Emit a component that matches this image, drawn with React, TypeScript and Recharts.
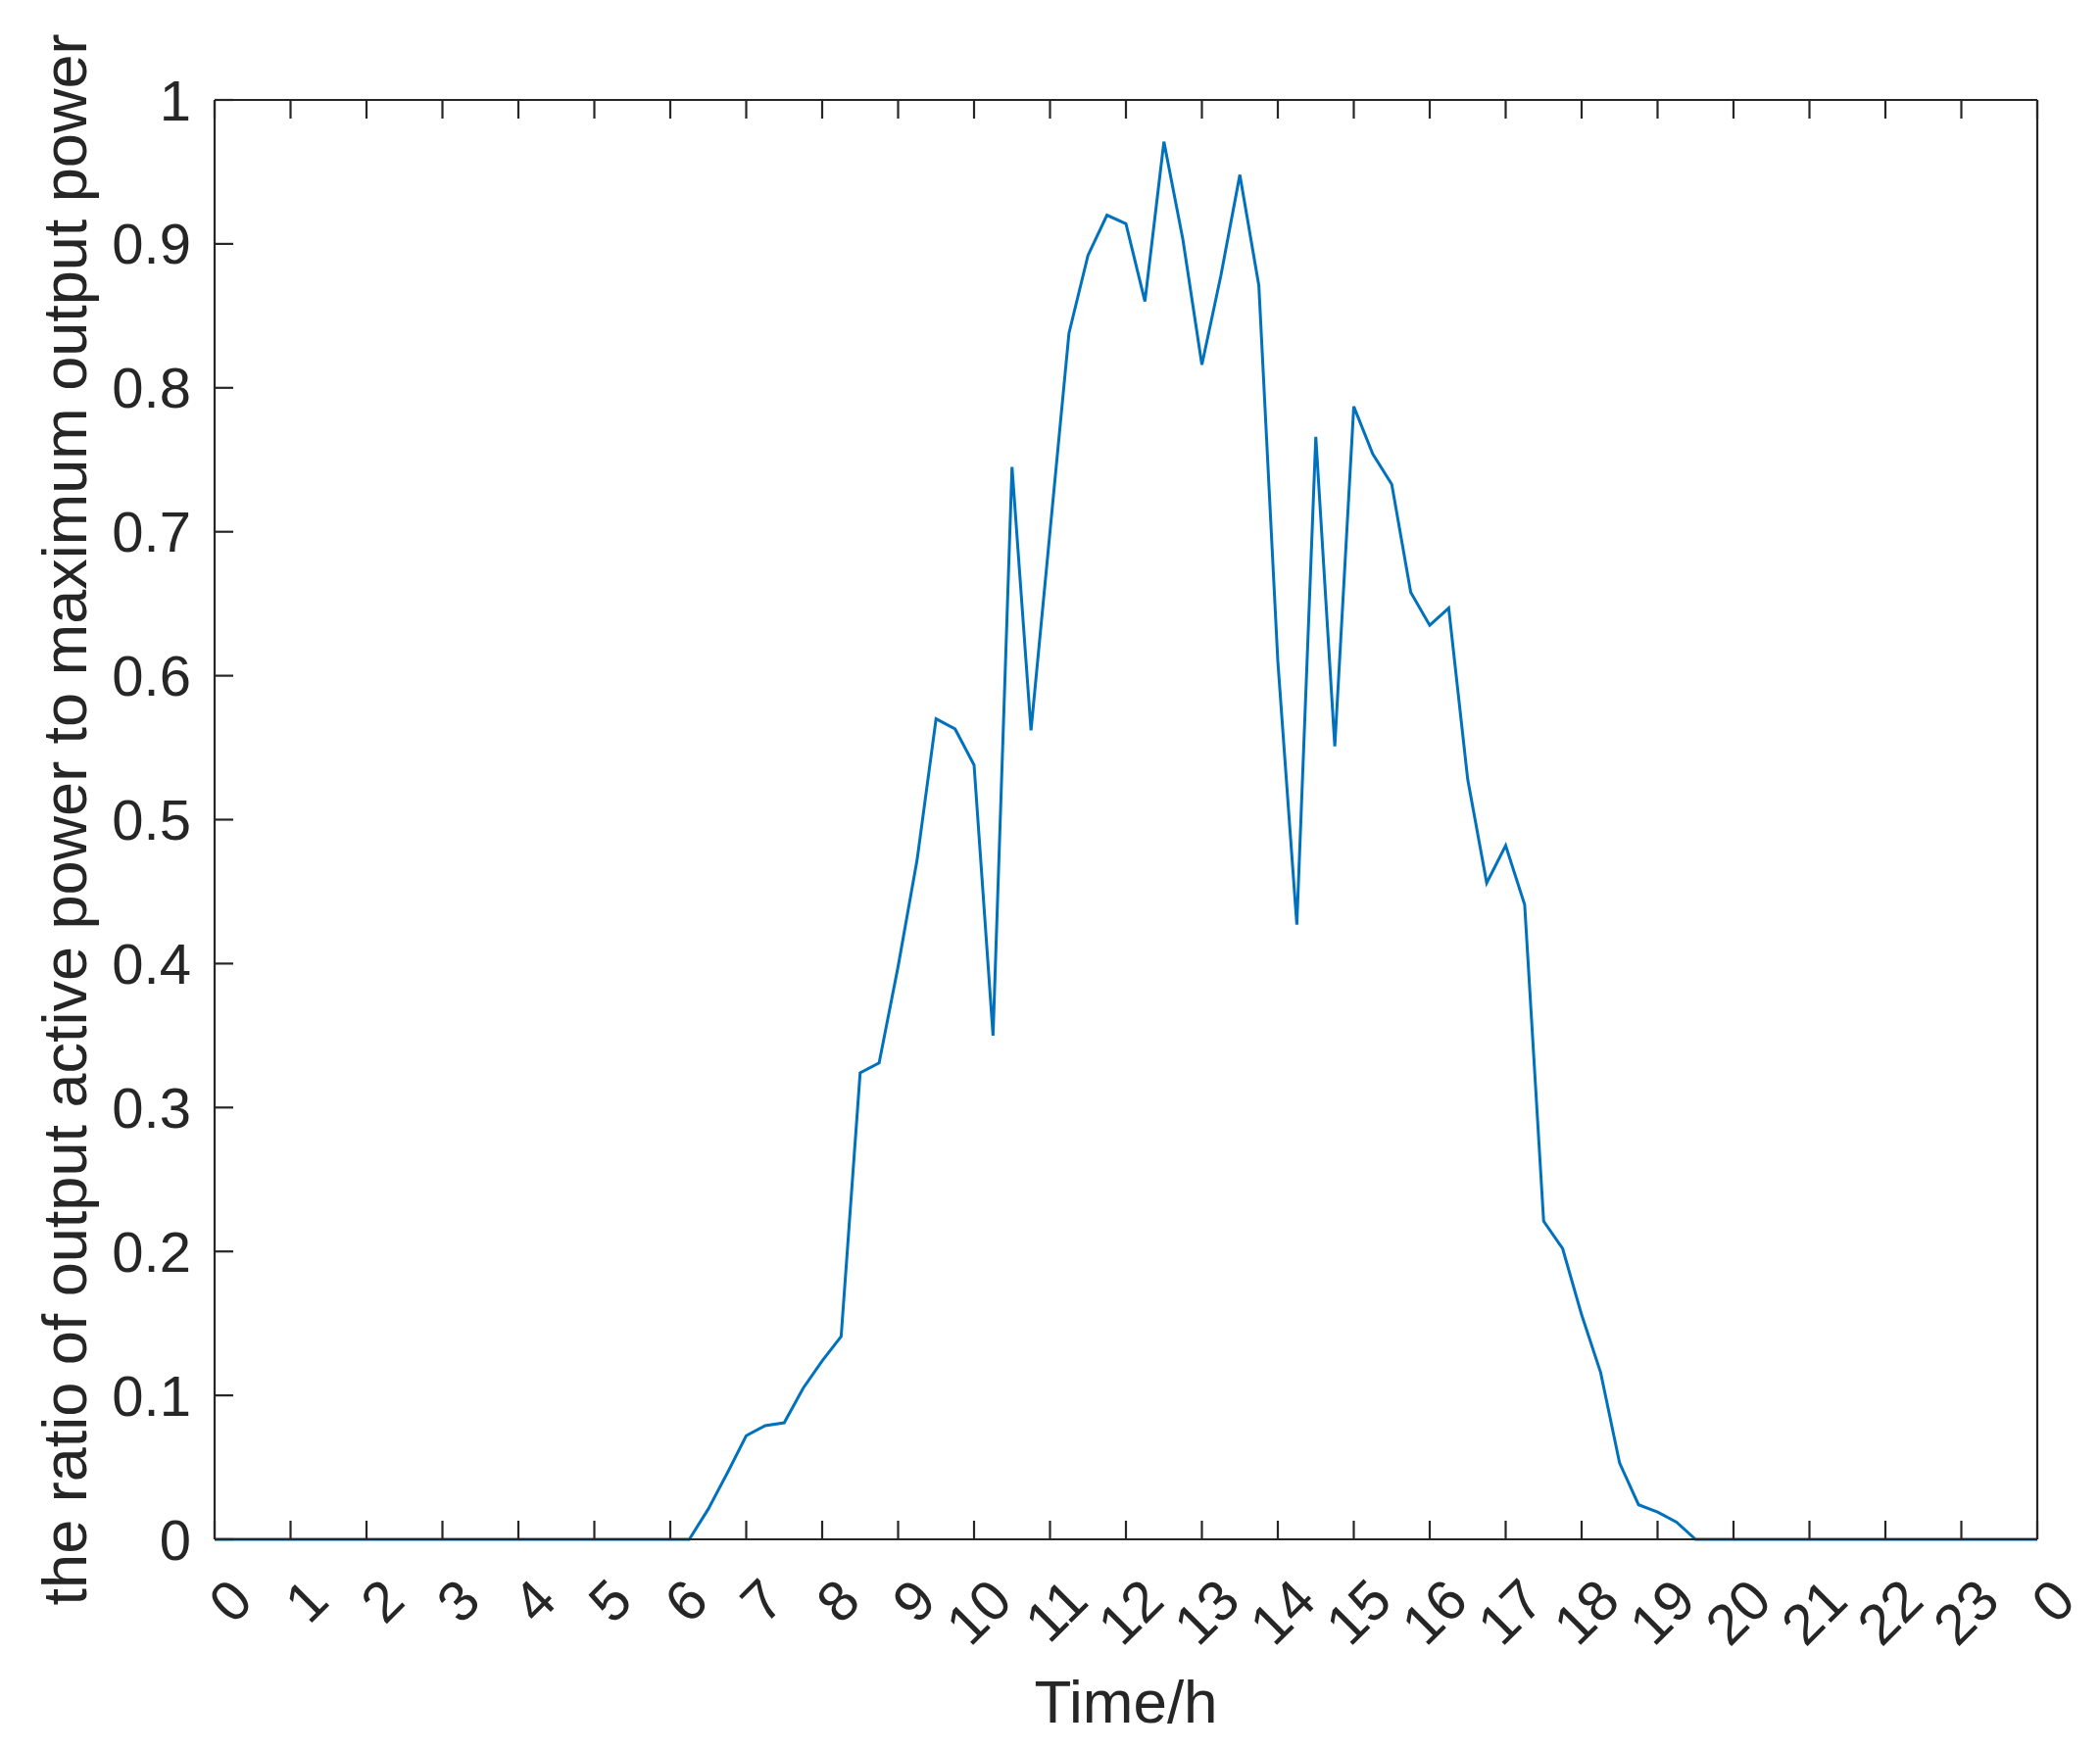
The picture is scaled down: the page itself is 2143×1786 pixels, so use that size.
import { LineChart, Line, XAxis, YAxis, Label } from "recharts"

// ratio sampled every 15 min, 0:00 .. 24:00
const ratio = [
    0, 0, 0, 0, 0, 0, 0, 0, 0, 0, 0, 0, 0, 0, 0, 0, 0, 0, 0, 0, 0, 0, 0, 0, 0, 0,
    0.021, 0.046, 0.072, 0.079, 0.081, 0.105, 0.124, 0.141,
    0.324, 0.331, 0.398, 0.472, 0.570, 0.563, 0.538, 0.350,
    0.745, 0.562, 0.700, 0.838, 0.892, 0.920, 0.914, 0.860,
    0.971, 0.903, 0.816, 0.878, 0.948, 0.871, 0.610, 0.427,
    0.766, 0.551, 0.787, 0.754, 0.733, 0.658, 0.635, 0.647,
    0.528, 0.456, 0.482, 0.441, 0.221, 0.202, 0.156, 0.116,
    0.053, 0.024, 0.019, 0.012,
    0, 0, 0, 0, 0, 0, 0, 0, 0, 0, 0, 0, 0, 0, 0, 0, 0, 0, 0,
]

const hourTicks = [0, 1, 2, 3, 4, 5, 6, 7, 8, 9, 10, 11, 12, 13, 14, 15, 16, 17, 18, 19, 20, 21, 22, 23, 24]
const hourLabels = ["0", "1", "2", "3", "4", "5", "6", "7", "8", "9", "10", "11", "12", "13", "14", "15", "16", "17", "18", "19", "20", "21", "22", "23", "0"]
const ratioTicks = [0, 0.1, 0.2, 0.3, 0.4, 0.5, 0.6, 0.7, 0.8, 0.9, 1]
const ratioLabels = ["0", "0.1", "0.2", "0.3", "0.4", "0.5", "0.6", "0.7", "0.8", "0.9", "1"]

const data = ratio.map((v, i) => ({ t: i / 4, v }))

const FONT = "'Liberation Sans', Arial, Helvetica, sans-serif"
const INK = "#262626"
const axisStroke = { stroke: INK, strokeWidth: 2.2 }

function HourTick({ x, y, payload }: any) {
    const i = hourTicks.indexOf(payload.value)
    const px = x + 27
    const py = y + 51
    return (
        <text x={px} y={py} transform={`rotate(-45 ${px} ${py})`} textAnchor="end" dominantBaseline="central"
            fontSize={58} fontFamily={FONT} fill={INK}>
            {hourLabels[i]}
        </text>
    )
}

function RatioTick({ x, y, payload }: any) {
    const i = ratioTicks.findIndex((t) => Math.abs(t - payload.value) < 1e-9)
    return (
        <text x={x} y={y} textAnchor="end" dominantBaseline="central" fontSize={58} fontFamily={FONT} fill={INK}>
            {ratioLabels[i]}
        </text>
    )
}

const noTick = () => <g />

export default function App() {
    return (
        <div style={{ position: "absolute", left: 0, top: 0, background: "#fff" }}>
            <LineChart width={2143} height={1786} data={data}
                margin={{ top: 101, right: 63, left: 69, bottom: 65 }}>
                <XAxis xAxisId="b" dataKey="t" type="number" domain={[0, 24]} ticks={hourTicks}
                    allowDataOverflow interval={0} height={150} tickSize={-19} tickMargin={19}
                    axisLine={axisStroke} tickLine={axisStroke} tick={<HourTick />}>
                    <Label content={({ viewBox }: any) => (
                        <text x={viewBox.x + viewBox.width / 2} y={1736} textAnchor="middle" dominantBaseline="central"
                            fontSize={62} fontFamily={FONT} fill={INK}>Time/h</text>
                    )} />
                </XAxis>
                <XAxis xAxisId="t" orientation="top" dataKey="t" type="number" domain={[0, 24]} ticks={hourTicks}
                    interval={0} height={1} tickSize={-19} axisLine={axisStroke} tickLine={axisStroke} tick={noTick} />
                <YAxis yAxisId="l" type="number" domain={[0, 1]} ticks={ratioTicks} interval={0} width={150}
                    tickSize={-19} tickMargin={43} axisLine={axisStroke} tickLine={axisStroke} tick={<RatioTick />}>
                    <Label content={({ viewBox }: any) => {
                        const cy = viewBox.y + viewBox.height / 2
                        return (
                            <text x={66} y={cy} transform={`rotate(-90 66 ${cy})`} textAnchor="middle" dominantBaseline="central"
                                fontSize={63} fontFamily={FONT} fill={INK}>
                                the ratio of output active power to maximum output power
                            </text>
                        )
                    }} />
                </YAxis>
                <YAxis yAxisId="r" orientation="right" type="number" domain={[0, 1]} ticks={ratioTicks} interval={0}
                    width={1} tickSize={-19} axisLine={axisStroke} tickLine={axisStroke} tick={noTick} />
                <Line xAxisId="b" yAxisId="l" type="linear" dataKey="v" stroke="#0072BD" strokeWidth={3}
                    dot={false} activeDot={false} isAnimationActive={false} />
            </LineChart>
        </div>
    )
}
